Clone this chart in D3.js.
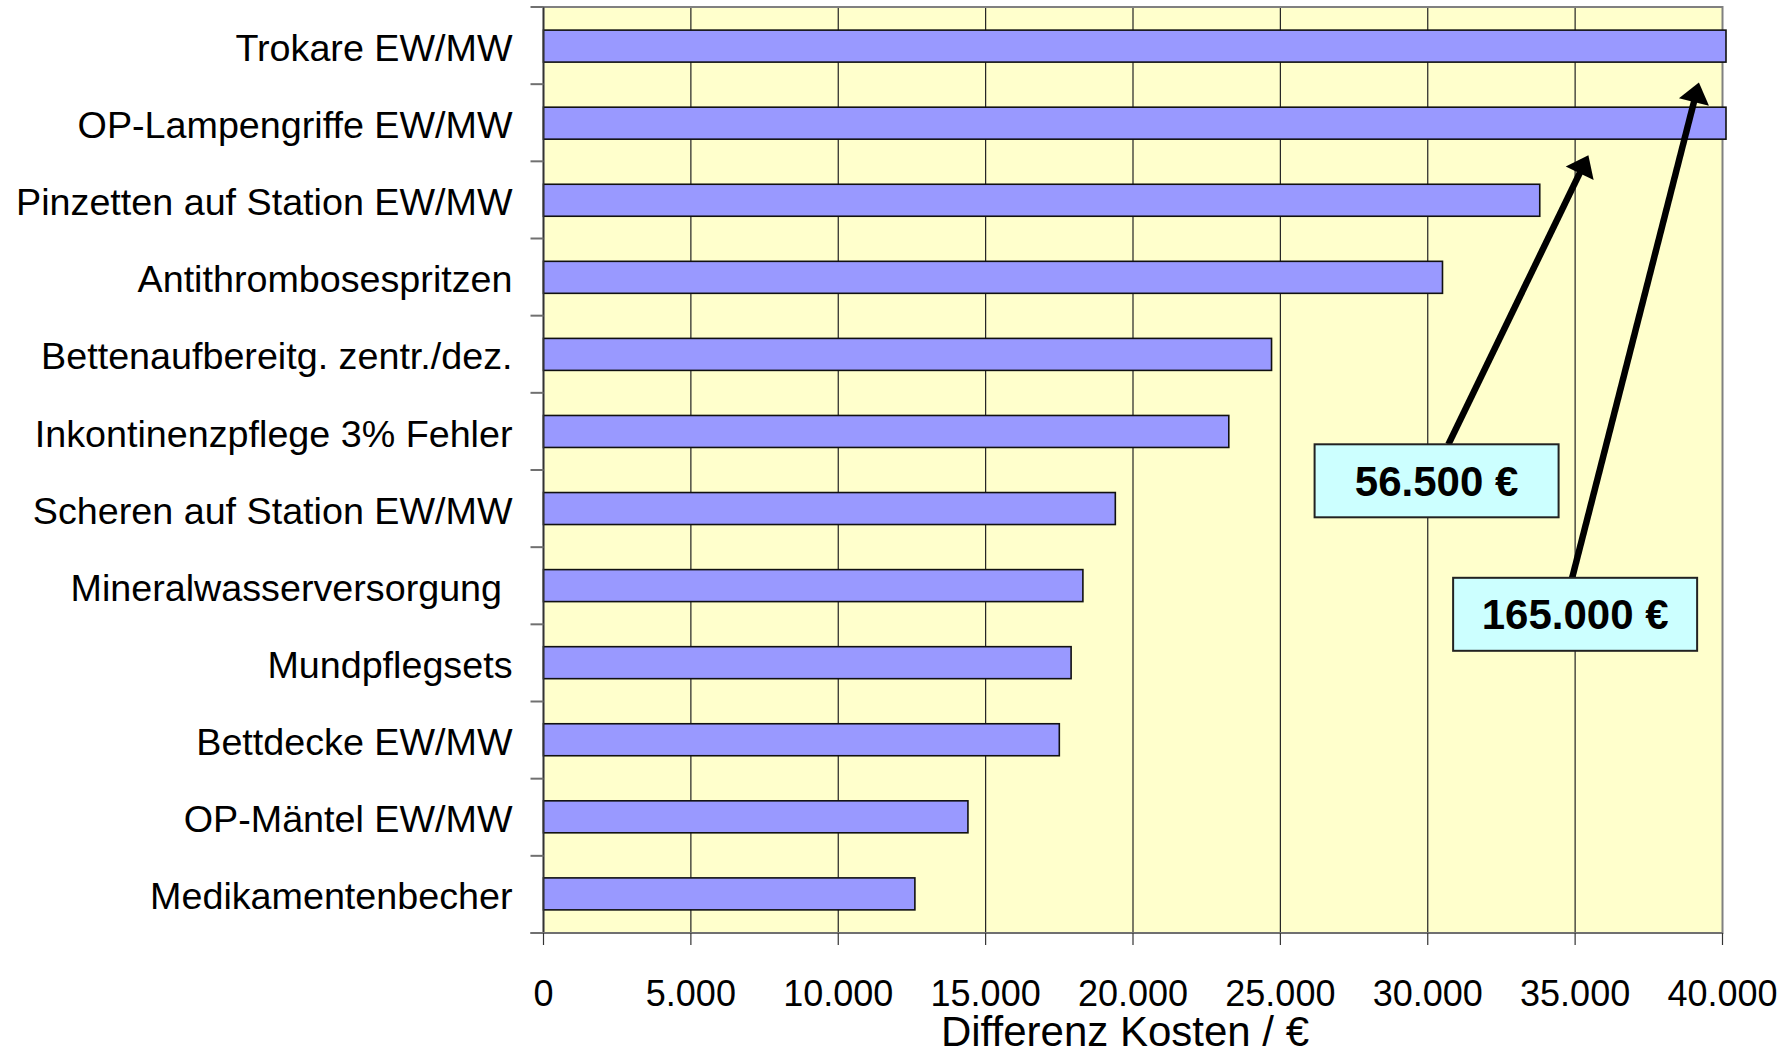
<!DOCTYPE html>
<html>
<head>
<meta charset="utf-8">
<script src="https://cdn.jsdelivr.net/npm/d3@7"></script>
<style>
  html, body { margin: 0; padding: 0; background: #ffffff; }
  svg { display: block; font-family: "Liberation Sans", Arial, Helvetica, sans-serif; }
</style>
</head>
<body>
<script>
// ---------------- data ----------------
const categories = [
  "Trokare EW/MW",
  "OP-Lampengriffe EW/MW",
  "Pinzetten auf Station EW/MW",
  "Antithrombosespritzen",
  "Bettenaufbereitg. zentr./dez.",
  "Inkontinenzpflege 3% Fehler",
  "Scheren auf Station EW/MW",
  "Mineralwasserversorgung ",
  "Mundpflegsets",
  "Bettdecke EW/MW",
  "OP-Mäntel EW/MW",
  "Medikamentenbecher"
];
const values = [165000, 56500, 33800, 30500, 24700, 23250, 19400, 18300, 17900, 17500, 14400, 12600];
const xTickValues = [0, 5000, 10000, 15000, 20000, 25000, 30000, 35000, 40000];
const xTickLabels = ["0", "5.000", "10.000", "15.000", "20.000", "25.000", "30.000", "35.000", "40.000"];
const xAxisTitle = "Differenz Kosten / €";
const annotationLabels = ["56.500 €", "165.000 €"];
// annotation anchors in data space: box centre (value, band units), arrow start x (value), arrow tip (value, band units)
const annotationBoxX = [30300, 35000];
const annotationBoxY = [6.14, 7.87];
const annotationStartX = [30700, 34900];
const annotationTipX = [35450, 39200];
const annotationTipY = [1.92, 0.98];

// ---------------- layout ----------------
const W = 1791, H = 1055;
const pLeft = 543.5, pRight = 1722.5, pTop = 7, pBottom = 933;

const svg = d3.select("body").append("svg")
  .attr("width", W).attr("height", H)
  .attr("viewBox", `0 0 ${W} ${H}`);

svg.append("rect").attr("width", W).attr("height", H).attr("fill", "#ffffff");

const x = d3.scaleLinear().domain([0, 40000]).range([pLeft, pRight]);
const y = d3.scaleBand().domain(categories).range([pTop, pBottom]).paddingInner(0.585).paddingOuter(0.3);
const yBand = d3.scaleLinear().domain([0, categories.length]).range([pTop, pBottom]);

// plot background
svg.append("rect")
  .attr("x", pLeft).attr("y", pTop)
  .attr("width", pRight - pLeft).attr("height", pBottom - pTop)
  .attr("fill", "#FFFFCC");

// gridlines
svg.append("g").selectAll("line")
  .data(xTickValues.filter(v => v > 0 && v < 40000))
  .join("line")
  .attr("x1", d => x(d)).attr("x2", d => x(d))
  .attr("y1", pTop).attr("y2", pBottom)
  .attr("stroke", "#222").attr("stroke-width", 1.2);

// plot border
svg.append("rect")
  .attr("x", pLeft).attr("y", pTop)
  .attr("width", pRight - pLeft).attr("height", pBottom - pTop)
  .attr("fill", "none").attr("stroke", "#808080").attr("stroke-width", 2);

// bars (clipped just past the axis end)
const maxX = x(40000) + 3.5;
svg.append("g").selectAll("rect")
  .data(categories)
  .join("rect")
  .attr("x", x(0))
  .attr("y", d => y(d))
  .attr("width", (d, i) => Math.min(x(values[i]), maxX) - x(0))
  .attr("height", y.bandwidth())
  .attr("fill", "#9999FF")
  .attr("stroke", "#111")
  .attr("stroke-width", 1.6);

// left axis line
svg.append("line")
  .attr("x1", pLeft).attr("x2", pLeft).attr("y1", pTop).attr("y2", pBottom)
  .attr("stroke", "#333").attr("stroke-width", 1.6);

// left ticks at band boundaries
svg.append("g").selectAll("line")
  .data(d3.range(categories.length + 1))
  .join("line")
  .attr("x1", pLeft - 13).attr("x2", pLeft)
  .attr("y1", d => yBand(d)).attr("y2", d => yBand(d))
  .attr("stroke", "#707070").attr("stroke-width", 2);

// bottom axis line
svg.append("line")
  .attr("x1", pLeft - 13).attr("x2", pRight).attr("y1", pBottom).attr("y2", pBottom)
  .attr("stroke", "#707070").attr("stroke-width", 2);

// bottom ticks
svg.append("g").selectAll("line")
  .data(xTickValues)
  .join("line")
  .attr("x1", d => x(d)).attr("x2", d => x(d))
  .attr("y1", pBottom).attr("y2", pBottom + 12)
  .attr("stroke", "#333").attr("stroke-width", 1.2);

// tick labels
svg.append("g").selectAll("text")
  .data(xTickValues)
  .join("text")
  .attr("x", d => x(d))
  .attr("y", 1006)
  .attr("text-anchor", "middle")
  .attr("font-size", 36)
  .attr("fill", "#000")
  .text((d, i) => xTickLabels[i]);

// axis title
svg.append("text")
  .attr("x", 1125).attr("y", 1046)
  .attr("text-anchor", "middle")
  .attr("font-size", 42)
  .attr("fill", "#000")
  .text(xAxisTitle);

// category labels
svg.append("g").selectAll("text")
  .data(categories)
  .join("text")
  .attr("x", 512.5)
  .attr("y", d => y(d) + y.bandwidth() / 2)
  .attr("dy", "0.4em")
  .attr("text-anchor", "end")
  .attr("font-size", 37.7)
  .attr("fill", "#000")
  .style("white-space", "pre")
  .text(d => d);

// annotations
const boxW = 244, boxH = 73;
const headLen = 20, headHalf = 15.5, shaft = 6.5;
annotationLabels.forEach((label, i) => {
  const cx = x(annotationBoxX[i]);
  const cy = yBand(annotationBoxY[i]);
  const boxTop = cy - boxH / 2;
  const sx = x(annotationStartX[i]), sy = boxTop;
  const tx = x(annotationTipX[i]), ty = yBand(annotationTipY[i]);
  const len = Math.hypot(tx - sx, ty - sy);
  const ux = (tx - sx) / len, uy = (ty - sy) / len;
  const bx = tx - ux * headLen, by = ty - uy * headLen;
  svg.append("line")
    .attr("x1", sx).attr("y1", sy)
    .attr("x2", bx + ux * 2).attr("y2", by + uy * 2)
    .attr("stroke", "#000").attr("stroke-width", shaft);
  svg.append("path")
    .attr("d", `M${tx},${ty} L${bx - uy * headHalf},${by + ux * headHalf} L${bx + uy * headHalf},${by - ux * headHalf} Z`)
    .attr("fill", "#000");
  svg.append("rect")
    .attr("x", cx - boxW / 2).attr("y", boxTop)
    .attr("width", boxW).attr("height", boxH)
    .attr("fill", "#CCFFFF").attr("stroke", "#222").attr("stroke-width", 2);
  svg.append("text")
    .attr("x", cx).attr("y", cy)
    .attr("dy", "0.36em")
    .attr("text-anchor", "middle")
    .attr("font-size", 42)
    .attr("font-weight", "bold")
    .attr("fill", "#000")
    .text(label);
});
</script>
</body>
</html>
